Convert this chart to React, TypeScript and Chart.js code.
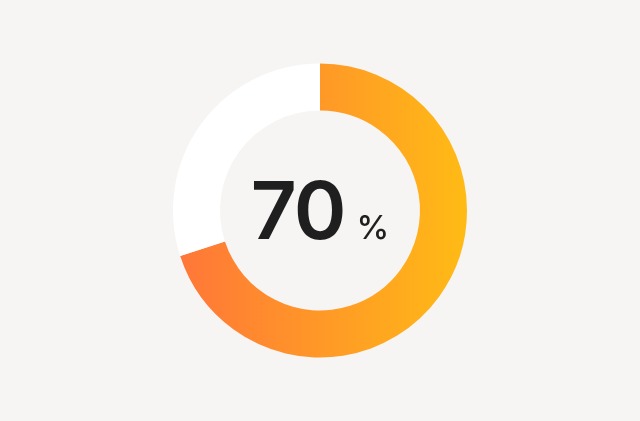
import React, { useEffect, useRef } from 'react'
import { Chart, registerables } from 'chart.js'

Chart.register(...registerables)

const labels = ['Done', 'Remaining']
const values = [70, 30]
const centerValue = '70'
const centerUnit = '%'

const App = () => {
  const chartRef = useRef<HTMLCanvasElement | null>(null)

  useEffect(() => {
    document.body.style.margin = '0'
    document.body.style.background = '#f7f5f3'
    if (!chartRef.current) return
    const chart = new Chart(chartRef.current, {
      type: 'doughnut',
      data: {
        labels,
        datasets: [
          {
            data: values,
            backgroundColor: (ctx: any) => {
              if (ctx.dataIndex === 1) return '#ffffff'
              const { chart } = ctx
              const area = chart.chartArea
              if (!area) return '#ff9a28'
              const cx = (area.left + area.right) / 2
              const g = chart.ctx.createLinearGradient(cx - 147, 0, cx + 147, 0)
              g.addColorStop(0, '#ff7539')
              g.addColorStop(1, '#ffbb15')
              return g
            },
            borderWidth: 0,
            radius: 147,
            cutout: '68%',
          },
        ],
      },
      options: {
        responsive: false,
        animation: false,
        plugins: {
          legend: { display: false },
          tooltip: { enabled: false },
        },
      },
    })

    return () => chart.destroy()
  }, [])

  return (
    <div style={{ position: 'relative', width: 640, height: 421, background: '#f7f5f3' }}>
      <canvas ref={chartRef} width={640} height={421} />
      <div
        style={{
          position: 'absolute',
          left: 0,
          top: 170,
          width: 640,
          display: 'flex',
          justifyContent: 'center',
          alignItems: 'baseline',
          fontFamily: 'Inter, sans-serif',
          color: '#1f1f1f',
          lineHeight: 1,
        }}
      >
        <span style={{ fontSize: 80, fontWeight: 600, letterSpacing: -2 }}>{centerValue}</span>
        <span style={{ fontSize: 33, fontWeight: 500, marginLeft: 12 }}>{centerUnit}</span>
      </div>
    </div>
  )
}

export default App
